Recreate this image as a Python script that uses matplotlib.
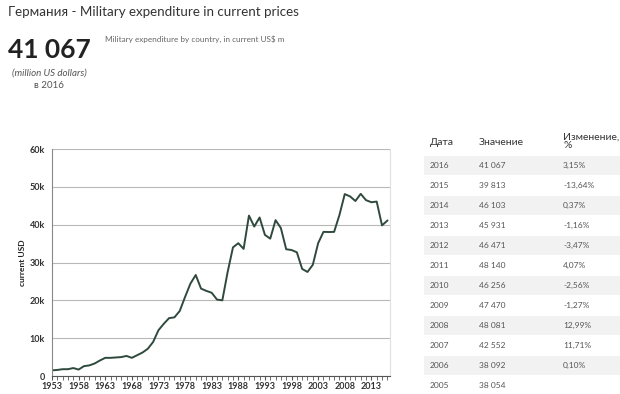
import matplotlib.pyplot as plt
from matplotlib.patches import Rectangle
from matplotlib.ticker import MultipleLocator, FuncFormatter

plt.rcParams['font.family'] = ['Lato', 'DejaVu Sans']

years = list(range(1953, 2017))
spending = [1500, 1600, 1800, 1800, 2100, 1700, 2600, 2800, 3300, 4100,
            4800, 4800, 4900, 5000, 5300, 4800, 5500, 6200, 7200, 9000,
            12100, 13800, 15300, 15500, 17200, 20900, 24400, 26700, 23100, 22500,
            22000, 20200, 20000, 27500, 34000, 35100, 33600, 42400, 39500, 41900,
            37300, 36300, 41200, 39100, 33500, 33300, 32700, 28300, 27500, 29400,
            35100, 38100, 38054, 38092, 42552, 48081, 47470, 46256, 48140, 46471,
            45931, 46103, 39813, 41067]

tbl_years = [2016, 2015, 2014, 2013, 2012, 2011, 2010, 2009, 2008, 2007, 2006, 2005]
tbl_values = [41067, 39813, 46103, 45931, 46471, 48140, 46256, 47470, 48081, 42552, 38092, 38054]
tbl_change = ["3,15%", "-13,64%", "0,37%", "-1,16%", "-3,47%", "4,07%", "-2,56%",
              "-1,27%", "12,99%", "11,71%", "0,10%", ""]

W, H = 620, 394
fig = plt.figure(figsize=(W / 100, H / 100), dpi=100)


def fx(x):
    return x / W


def fy(y):
    return 1 - y / H


def spaced(v):
    return f"{v:,}".replace(",", " ")


# header
fig.text(fx(8), fy(12), "Германия - Military expenditure in current prices",
         fontsize=9.6, color="#333333", va="center", ha="left")
fig.text(fx(8), fy(50), spaced(tbl_values[0]), fontsize=19, fontweight="bold",
         color="#222222", va="center", ha="left")
fig.text(fx(49), fy(73), "(million US dollars)", fontsize=7, style="italic",
         color="#555555", va="center", ha="center")
fig.text(fx(49), fy(85), "в " + str(tbl_years[0]), fontsize=7,
         color="#555555", va="center", ha="center")
fig.text(fx(105), fy(39), "Military expenditure by country, in current US$ m",
         fontsize=5.9, color="#666666", va="center", ha="left")

# chart
ax = fig.add_axes([fx(52), fy(376), fx(390) - fx(52), fy(149) - fy(376)])
ax.plot(years, spending, color="#2f4a3d", linewidth=1.4)
ax.set_xlim(1953, 2016.5)
ax.set_ylim(0, 60000)
ax.xaxis.set_major_locator(MultipleLocator(5, offset=3))
ax.xaxis.set_minor_locator(MultipleLocator(1))
ax.yaxis.set_major_locator(MultipleLocator(10000))
ax.yaxis.set_major_formatter(FuncFormatter(lambda v, p: "0" if v == 0 else f"{int(v / 1000)}k"))
ax.grid(axis="y", color="#b8b8b8", linewidth=0.8)
ax.set_axisbelow(True)
ax.spines["top"].set_visible(False)
ax.spines["right"].set_color("#e0e0e0")
ax.spines["left"].set_color("#888888")
ax.spines["bottom"].set_color("#555555")
ax.tick_params(axis="x", which="both", length=3, color="#555555", direction="out",
               labelsize=6.5, labelcolor="#333333", pad=1)
ax.tick_params(axis="y", length=0, labelsize=6.5, labelcolor="#333333", pad=5)
for lab in ax.get_xticklabels() + ax.get_yticklabels():
    lab.set_fontweight("bold")
ax.set_ylabel("current USD", fontsize=6, fontweight="bold", color="#222222", labelpad=3)

# table
col_x = [430, 479, 563]
fig.text(fx(col_x[0]), fy(142), "Дата", fontsize=7.5, color="#333333", va="center")
fig.text(fx(col_x[1]), fy(142), "Значение", fontsize=7.5, color="#333333", va="center")
fig.text(fx(col_x[2]), fy(137), "Изменение,", fontsize=7.5, color="#333333", va="center")
fig.text(fx(col_x[2]), fy(146), "%", fontsize=7.5, color="#333333", va="center")
for i, (yr, val, ch) in enumerate(zip(tbl_years, tbl_values, tbl_change)):
    yc = 165.5 + i * 20
    if i % 2 == 0:
        fig.patches.append(Rectangle((fx(424), fy(yc + 9.5)), fx(620) - fx(424), 19 / H,
                                     transform=fig.transFigure, facecolor="#f2f2f2",
                                     edgecolor="none", zorder=0))
    fig.text(fx(col_x[0]), fy(yc), str(yr), fontsize=6, color="#555555", va="center")
    fig.text(fx(col_x[1]), fy(yc), spaced(val), fontsize=6, color="#555555", va="center")
    fig.text(fx(col_x[2]), fy(yc), ch, fontsize=6, color="#555555", va="center")

fig.savefig("out.png", dpi=100)
